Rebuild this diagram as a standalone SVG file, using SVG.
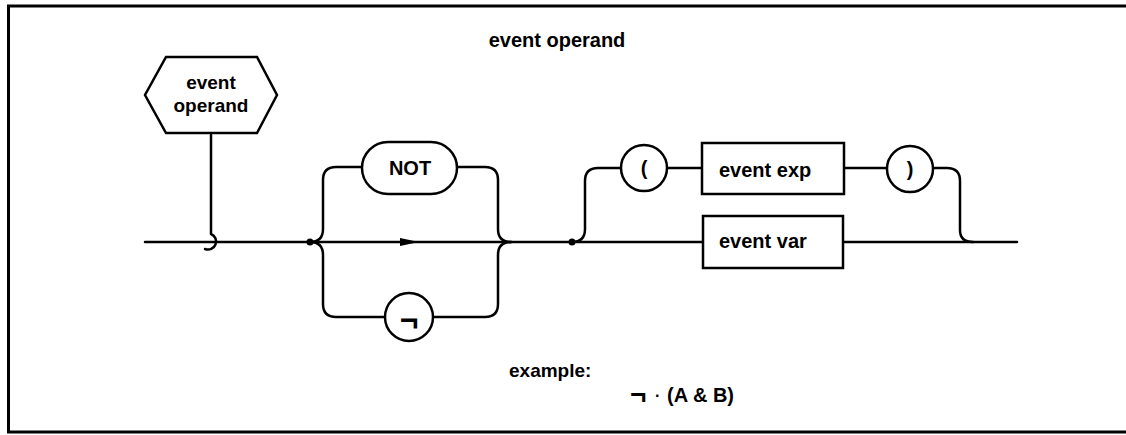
<svg xmlns="http://www.w3.org/2000/svg" width="1126" height="435" viewBox="0 0 1126 435">
<style>
.ln{fill:none;stroke:#000;stroke-width:2.5;stroke-linecap:round;stroke-linejoin:round}
.sh{fill:#fff;stroke:#000;stroke-width:2.5}
.t{font-family:"Liberation Sans",Arial,sans-serif;font-weight:bold;fill:#000}
.c{text-anchor:middle}
</style>
<rect width="1126" height="435" fill="#fff"/>
<rect x="8.5" y="6" width="1130" height="426" fill="none" stroke="#000" stroke-width="3"/>
<text class="t c" x="557" y="47" font-size="20">event operand</text>

<g id="connectors">
<path class="ln" d="M145,242 H1017"/>
<path class="ln" d="M211,135 V234 A8,8 0 1 1 205,249"/>
<path class="ln" d="M310,242 Q323,242 323,229 V180 Q323,167 336,167 H362"/>
<path class="ln" d="M310,242 Q323,242 323,255 V304 Q323,317 336,317 H385"/>
<path class="ln" d="M457,167 H485 Q498,167 498,180 V229 Q498,242 511,242"/>
<path class="ln" d="M433,317 H485 Q498,317 498,304 V255 Q498,242 511,242"/>
<polygon points="400,238 419,242 400,246" fill="#000"/>
<circle cx="310" cy="242" r="3.5" fill="#000"/>
<path class="ln" d="M572,242 Q585,242 585,229 V181 Q585,168 598,168 H621"/>
<path class="ln" d="M667,168 H702"/>
<path class="ln" d="M844,168 H887"/>
<path class="ln" d="M933,168 H947 Q960,168 960,181 V230 Q960,242 973,242"/>
<circle cx="572" cy="242" r="3.5" fill="#000"/>
</g>

<g id="node-event-operand">
<polygon class="sh" points="166,57 257,57 277,95 257,133 166,133 145,95"/>
<text class="t c" x="211" y="89" font-size="19">event</text>
<text class="t c" x="211" y="112" font-size="19">operand</text>
</g>

<g id="node-not">
<rect class="sh" x="362" y="142" width="95" height="52" rx="26"/>
<text class="t c" x="410" y="175" font-size="20">NOT</text>
</g>

<g id="node-neg">
<circle class="sh" cx="409" cy="317" r="24"/>
<text class="t c" x="409" y="331" font-size="32">¬</text>
</g>

<g id="node-lparen">
<circle class="sh" cx="644" cy="168" r="23"/>
<text class="t c" x="644" y="175" font-size="20">(</text>
</g>

<g id="node-event-exp">
<rect class="sh" x="702" y="143" width="142" height="51"/>
<text class="t" x="719" y="177" font-size="20">event exp</text>
</g>

<g id="node-rparen">
<circle class="sh" cx="910" cy="169" r="23"/>
<text class="t c" x="910" y="176" font-size="20">)</text>
</g>

<g id="node-event-var">
<rect class="sh" x="703" y="216" width="140" height="52"/>
<text class="t" x="719" y="248" font-size="20">event var</text>
</g>

<text class="t" x="509" y="377" font-size="19">example:</text>
<text class="t" x="630" y="404" font-size="28">¬</text>
<text class="t" x="655" y="401" font-size="16">·</text>
<text class="t" x="667" y="402" font-size="20">(A &amp; B)</text>
</svg>
